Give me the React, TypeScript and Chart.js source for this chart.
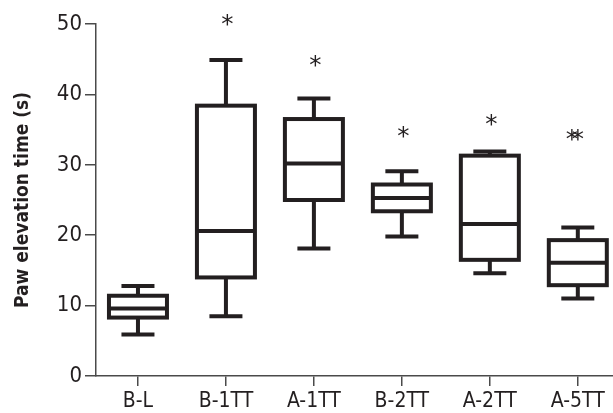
import React, { useEffect, useRef } from "react";
import { Chart, registerables } from "chart.js";

Chart.register(...registerables);

const categories = ["B-L", "B-1TT", "A-1TT", "B-2TT", "A-2TT", "A-5TT"];
const whiskerLow = [5.9, 8.5, 18.1, 19.8, 14.6, 11.0];
const quartile1 = [8.3, 14.0, 25.0, 23.4, 16.5, 12.9];
const medians = [9.6, 20.6, 30.2, 25.3, 21.6, 16.1];
const quartile3 = [11.4, 38.4, 36.5, 27.2, 31.3, 19.3];
const whiskerHigh = [12.8, 44.9, 39.4, 29.1, 31.9, 21.1];
const starLevel = [null, 50.6, 44.8, 34.7, 36.4, 34.2];
const starCount = [0, 1, 1, 1, 1, 2];
const yTicks = [0, 10, 20, 30, 40, 50];

const INK = "#231f20";
const AXIS = "#4a4a4a";
const FONT = "'Liberation Sans Narrow', 'DejaVu Sans Condensed', 'Liberation Sans', sans-serif";

const boxPlugin = {
  id: "boxDraw",
  afterDatasetsDraw(chart: any) {
    const { ctx, scales } = chart;
    const xs = scales.x;
    const ys = scales.y;
    const half = 29;
    const cap = 16.5;
    ctx.save();
    ctx.strokeStyle = INK;
    ctx.lineWidth = 4;
    ctx.lineCap = "butt";
    categories.forEach((_, i) => {
      const px = xs.getPixelForValue(i);
      const yLo = ys.getPixelForValue(whiskerLow[i]);
      const yQ1 = ys.getPixelForValue(quartile1[i]);
      const yMed = ys.getPixelForValue(medians[i]);
      const yQ3 = ys.getPixelForValue(quartile3[i]);
      const yHi = ys.getPixelForValue(whiskerHigh[i]);
      ctx.beginPath();
      ctx.moveTo(px, yQ3);
      ctx.lineTo(px, yHi);
      ctx.moveTo(px, yQ1);
      ctx.lineTo(px, yLo);
      ctx.moveTo(px - cap, yHi);
      ctx.lineTo(px + cap, yHi);
      ctx.moveTo(px - cap, yLo);
      ctx.lineTo(px + cap, yLo);
      ctx.stroke();
      ctx.fillStyle = "#ffffff";
      ctx.fillRect(px - half, yQ3, half * 2, yQ1 - yQ3);
      ctx.strokeRect(px - half, yQ3, half * 2, yQ1 - yQ3);
      ctx.beginPath();
      ctx.moveTo(px - half, yMed);
      ctx.lineTo(px + half, yMed);
      ctx.stroke();
    });
    // significance asterisks as text
    ctx.fillStyle = INK;
    ctx.font = "20px 'DejaVu Sans', sans-serif";
    const m = ctx.measureText("*");
    const h = m.actualBoundingBoxAscent + m.actualBoundingBoxDescent;
    const size = 20 * (11 / (h || 1));
    ctx.font = `${size}px 'DejaVu Sans', sans-serif`;
    ctx.textAlign = "center";
    ctx.textBaseline = "alphabetic";
    const m2 = ctx.measureText("*");
    const asc = m2.actualBoundingBoxAscent;
    const desc = m2.actualBoundingBoxDescent;
    categories.forEach((_, i) => {
      const lvl = starLevel[i];
      const n = starCount[i];
      if (lvl == null || !n) return;
      const px = xs.getPixelForValue(i);
      const py = ys.getPixelForValue(lvl);
      const base = py + (asc - desc) / 2;
      if (n === 1) {
        ctx.fillText("*", px + 1.5, base);
      } else {
        ctx.fillText("*", px - 6, base);
        ctx.fillText("*", px + 0, base);
      }
    });
    ctx.restore();
  },
};

export default function App() {
  const ref = useRef<HTMLCanvasElement | null>(null);
  useEffect(() => {
    if (!ref.current) return;
    const chart = new Chart(ref.current, {
      type: "bar",
      data: {
        datasets: [
          {
            data: categories.map((_, i) => ({ x: i, y: [quartile1[i], quartile3[i]] })) as any,
            backgroundColor: "#ffffff",
            borderWidth: 0,
            barThickness: 58,
          },
        ],
      },
      options: {
        animation: false,
        responsive: false,
        devicePixelRatio: 1,
        layout: { padding: { top: 24, right: 0, left: 0, bottom: 0 } },
        plugins: { legend: { display: false }, tooltip: { enabled: false } },
        scales: {
          x: {
            type: "linear",
            offset: false,
            min: -0.477,
            max: 5.4,
            afterBuildTicks: (scale: any) => {
              scale.ticks = categories.map((_, i) => ({ value: i }));
            },
            afterFit: (scale: any) => {
              scale.height = 37;
            },
            ticks: {
              autoSkip: false,
              maxRotation: 0,
              padding: 3,
              color: INK,
              font: { family: FONT, size: 21 },
              callback: (v: any) => categories[v as number] ?? "",
            },
            grid: {
              offset: false,
              drawOnChartArea: false,
              drawTicks: true,
              tickLength: 10,
              color: AXIS,
              lineWidth: 1.5,
            },
            border: { display: true, color: AXIS, width: 1.5 },
          },
          y: {
            type: "linear",
            min: 0,
            max: 50,
            afterBuildTicks: (scale: any) => {
              scale.ticks = yTicks.map((v) => ({ value: v }));
            },
            afterFit: (scale: any) => {
              scale.width = 96;
            },
            ticks: {
              padding: 3,
              color: INK,
              font: { family: FONT, size: 22 },
            },
            title: {
              display: true,
              text: "Paw elevation time (s)",
              color: INK,
              padding: { top: 12, bottom: 0 },
              font: { family: FONT, size: 19, weight: "bold" },
            },
            grid: { drawOnChartArea: false, drawTicks: true, tickLength: 11, color: AXIS, lineWidth: 1.5 },
            border: { display: true, color: AXIS, width: 1.5 },
          },
        },
      },
      plugins: [boxPlugin],
    });
    return () => chart.destroy();
  }, []);
  return (
    <div style={{ position: "fixed", left: 0, top: 0, width: 613, height: 413, background: "#fff" }}>
      <canvas ref={ref} width={613} height={413} />
    </div>
  );
}
